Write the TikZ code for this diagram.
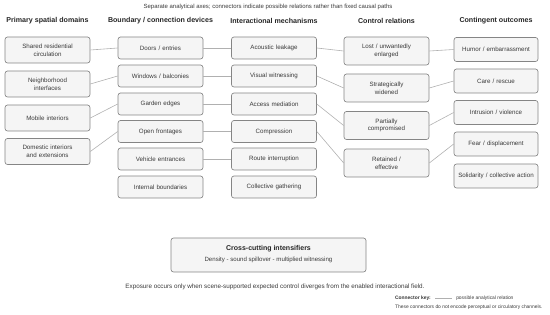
\documentclass[tikz,border=0pt]{standalone}
\usepackage{fontspec}
\setmainfont{Liberation Sans}
\usepackage{tikz}
\usetikzlibrary{positioning,arrows.meta,calc}
\usepackage{xcolor}
\definecolor{boxline}{HTML}{858585}
\definecolor{boxfill}{HTML}{F5F5F5}
\definecolor{linkgray}{HTML}{B0B0B0}
\definecolor{inkgray}{HTML}{3A3A3A}

\begin{document}
\begin{tikzpicture}[
    x=1pt, y=-1pt,
    colHead/.style={font=\fontsize{7.1}{8.5}\selectfont\bfseries, text=black!85},
    itemBox/.style={rectangle, rounded corners=2.5pt, draw=boxline, fill=boxfill, line width=0.65pt, font=\fontsize{6.2}{7.6}\selectfont, text=inkgray, align=center, inner sep=1pt},
    boxA/.style={itemBox, minimum width=85pt, minimum height=26pt, text width=78pt},
    boxB/.style={itemBox, minimum width=85pt, minimum height=22pt, text width=80pt},
    boxC/.style={itemBox, minimum width=85pt, minimum height=28pt, text width=78pt},
    boxD/.style={itemBox, minimum width=84pt, minimum height=24pt, text width=80pt},
    link/.style={draw=linkgray, line width=0.6pt},
    noteText/.style={font=\fontsize{6.3}{7.5}\selectfont, text=inkgray}
]
    \useasboundingbox (0,0) rectangle (550,315);

    % Titolo in alto
    \node[font=\fontsize{6.0}{7}\selectfont, text=inkgray] (title) at (268,7) {Separate analytical axes; connectors indicate possible relations rather than fixed causal paths};

    % Intestazioni delle colonne
    \node[colHead] (hSpatial) at (47.5,21) {Primary spatial domains};
    \node[colHead] (hBoundary) at (160.5,21) {Boundary / connection devices};
    \node[colHead] (hMechanism) at (274,21) {Interactional mechanisms};
    \node[colHead] (hControl) at (386.5,21) {Control relations};
    \node[colHead] (hOutcome) at (496,21) {Contingent outcomes};

    % Colonna 1: domini spaziali
    \node[boxA] (sp1) at (47.5,50) {Shared residential\\circulation};
    \node[boxA] (sp2) at (47.5,84) {Neighborhood\\interfaces};
    \node[boxA] (sp3) at (47.5,118) {Mobile interiors};
    \node[boxA] (sp4) at (47.5,151.5) {Domestic interiors\\and extensions};

    % Colonna 2: dispositivi di confine
    \node[boxB] (bd1) at (160.5,48) {Doors / entries};
    \node[boxB] (bd2) at (160.5,76) {Windows / balconies};
    \node[boxB] (bd3) at (160.5,104) {Garden edges};
    \node[boxB] (bd4) at (160.5,131.5) {Open frontages};
    \node[boxB] (bd5) at (160.5,159) {Vehicle entrances};
    \node[boxB] (bd6) at (160.5,187) {Internal boundaries};

    % Colonna 3: meccanismi
    \node[boxB] (mc1) at (274,48) {Acoustic leakage};
    \node[boxB] (mc2) at (274,76) {Visual witnessing};
    \node[boxB] (mc3) at (274,104) {Access mediation};
    \node[boxB] (mc4) at (274,131.5) {Compression};
    \node[boxB] (mc5) at (274,159) {Route interruption};
    \node[boxB] (mc6) at (274,187) {Collective gathering};

    % Colonna 4: relazioni di controllo
    \node[boxC] (ct1) at (386.5,51) {Lost / unwantedly\\enlarged};
    \node[boxC] (ct2) at (386.5,88) {Strategically\\widened};
    \node[boxC] (ct3) at (386.5,125.5) {Partially\\compromised};
    \node[boxC] (ct4) at (386.5,163) {Retained /\\effective};

    % Colonna 5: esiti
    \node[boxD] (oc1) at (496,49.5) {Humor / embarrassment};
    \node[boxD] (oc2) at (496,81) {Care / rescue};
    \node[boxD] (oc3) at (496,112.5) {Intrusion / violence};
    \node[boxD] (oc4) at (496,144) {Fear / displacement};
    \node[boxD] (oc5) at (496,176) {Solidarity / collective action};

    % Connettori tra le colonne
    \draw[link] (sp1.east) -- (bd1.west);
    \draw[link] (sp2.east) -- (bd2.west);
    \draw[link] (sp3.east) -- (bd3.west);
    \draw[link] (sp4.east) -- (bd4.west);

    \draw[link] (bd1.east) -- (mc1.west);
    \draw[link] (bd2.east) -- (mc2.west);
    \draw[link] (bd3.east) -- (mc3.west);
    \draw[link] (bd4.east) -- (mc4.west);
    \draw[link] (bd5.east) -- (mc5.west);

    \draw[link] (mc1.east) -- (ct1.west);
    \draw[link] (mc2.east) -- (ct2.west);
    \draw[link] (mc3.east) -- (ct3.west);
    \draw[link] (mc4.east) -- (ct4.west);

    \draw[link] (ct1.east) -- (oc1.west);
    \draw[link] (ct2.east) -- (oc2.west);
    \draw[link] (ct3.east) -- (oc3.west);
    \draw[link] (ct4.east) -- (oc4.west);

    % Riquadro degli intensificatori trasversali
    \node[itemBox, minimum width=195pt, minimum height=34pt] (cross) at (268.5,255) {};
    \node[font=\fontsize{7.0}{8}\selectfont\bfseries, text=black!85] (crossHead) at (268.5,249) {Cross-cutting intensifiers};
    \node[font=\fontsize{6.1}{7}\selectfont, text=inkgray] (crossSub) at (268.5,259.5) {Density - sound spillover - multiplied witnessing};

    % Nota in basso e legenda
    \node[noteText] (note) at (275,287) {Exposure occurs only when scene-supported expected control diverges from the enabled interactional field.};
    \node[font=\fontsize{4.9}{6}\selectfont\bfseries, text=black!80, anchor=west, inner sep=0pt] (keyHead) at (395,298) {Connector key:};
    \coordinate[right=4pt of keyHead] (keyA);
    \coordinate[right=17pt of keyA] (keyB);
    \draw[link] (keyA) -- (keyB);
    \node[font=\fontsize{4.9}{6}\selectfont, text=inkgray, anchor=west, inner sep=0pt, right=4pt of keyB] (keyText) {possible analytical relation};
    \node[font=\fontsize{4.9}{6}\selectfont, text=inkgray, anchor=west, inner sep=0pt] (keyNote) at (395,307) {These connectors do not encode perceptual or circulatory channels.};
\end{tikzpicture}
\end{document}
